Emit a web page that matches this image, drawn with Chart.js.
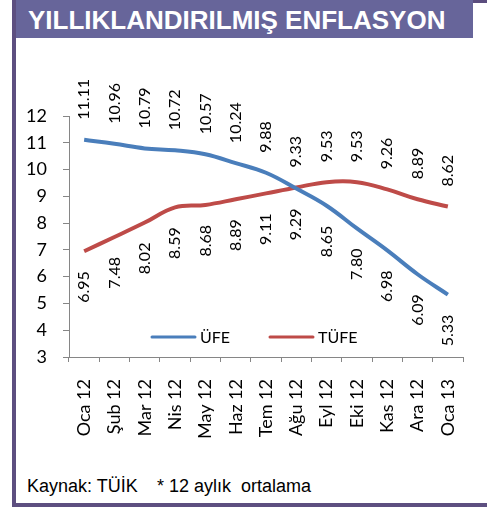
<!DOCTYPE html>
<html>
<head>
<meta charset="utf-8">
<script src="https://cdn.jsdelivr.net/npm/chart.js@4"></script>
<style>
  body { margin: 0; width: 487px; height: 508px; background: #fff; position: relative; overflow: hidden; }
  .box { position: absolute; }
  #title { left: 12px; top: 0; width: 461px; height: 38px; background: #67659a; color: #fff;
           font: bold 26px "Liberation Sans", Arial, sans-serif; line-height: 40px; padding-left: 16px; box-sizing: border-box; white-space: nowrap; }
  #strip { left: 473px; top: 0; width: 14px; height: 3px; background: #5b4d7e; }
  #leftBorder { left: 12px; top: 0; width: 4px; height: 507px; background: #5d4f80; }
  #bottomBorder { left: 12px; top: 503px; width: 475px; height: 4px; background: #5d4f80; }
  #chartBox { left: 16px; top: 38px; }
  #footer { left: 27px; top: 476px; font: 18px "Liberation Sans", Arial, sans-serif; color: #000; white-space: nowrap; }
  #footer span { position: absolute; top: 0; }
</style>
</head>
<body>
<div class="box" id="title">YILLIKLANDIRILMIŞ ENFLASYON</div>
<div class="box" id="strip"></div>
<div class="box" id="leftBorder"></div>
<div class="box" id="bottomBorder"></div>
<div class="box" id="chartBox"><canvas id="inflationChart" width="471" height="432"></canvas></div>
<div class="box" id="footer"><span style="left:0">Kaynak: TÜİK</span><span style="left:130px">* 12 aylık&nbsp; ortalama</span></div>
<script>
// aylar
const months = ['Oca 12', 'Şub 12', 'Mar 12', 'Nis 12', 'May 12', 'Haz 12', 'Tem 12',
                'Ağu 12', 'Eyl 12', 'Eki 12', 'Kas 12', 'Ara 12', 'Oca 13'];

// yıllıklandırılmış değerler (%)
const ufe  = [11.11, 10.96, 10.79, 10.72, 10.57, 10.24, 9.88, 9.29, 8.65, 7.80, 6.98, 6.09, 5.33];
const tufe = [6.95, 7.48, 8.02, 8.59, 8.68, 8.89, 9.11, 9.33, 9.53, 9.53, 9.26, 8.89, 8.62];

// y ekseni
const yMin = 3, yMax = 12, yStep = 1;

const axisColor = '#868686';
const fontFamily = 'Lato, "Open Sans", sans-serif';

// değer etiketleri: üstteki seri üstte, alttaki seri altta, dikey yazı
const valueLabels = {
    id: 'valueLabels',
    afterDatasetsDraw(chart) {
        const ctx = chart.ctx;
        const sets = chart.data.datasets;
        ctx.save();
        ctx.font = '16px ' + fontFamily;
        ctx.fillStyle = '#000';
        ctx.textBaseline = 'middle';
        sets.forEach((ds, di) => {
            const meta = chart.getDatasetMeta(di);
            const other = sets[1 - di].data;
            meta.data.forEach((pt, i) => {
                const above = ds.data[i] >= other[i];
                ctx.save();
                ctx.translate(pt.x, above ? pt.y - 20 : pt.y + 20);
                ctx.rotate(-Math.PI / 2);
                ctx.textAlign = above ? 'left' : 'right';
                ctx.fillText(ds.data[i].toFixed(2), 0, 0);
                ctx.restore();
            });
        });
        ctx.restore();
    }
};

// grafik içindeki lejant
const innerLegend = {
    id: 'innerLegend',
    afterDraw(chart) {
        const ctx = chart.ctx;
        const area = chart.chartArea;
        const y = area.bottom - 20;
        const starts = [area.left + 83, area.left + 201];
        ctx.save();
        ctx.font = '16px ' + fontFamily;
        ctx.fillStyle = '#000';
        ctx.textBaseline = 'middle';
        ctx.textAlign = 'left';
        chart.data.datasets.forEach((ds, i) => {
            const x = starts[i];
            ctx.strokeStyle = ds.borderColor;
            ctx.lineWidth = 3;
            ctx.lineCap = 'round';
            ctx.beginPath();
            ctx.moveTo(x, y);
            ctx.lineTo(x + 43, y);
            ctx.stroke();
            ctx.fillText(ds.label, x + 48, y + 1);
        });
        ctx.restore();
    }
};

const ctx = document.getElementById('inflationChart').getContext('2d');
new Chart(ctx, {
    type: 'line',
    data: {
        labels: months,
        datasets: [
            { label: 'ÜFE', data: ufe, borderColor: '#4a7ebb', borderWidth: 4, pointRadius: 0, tension: 0.4, fill: false },
            { label: 'TÜFE', data: tufe, borderColor: '#be4b48', borderWidth: 4, pointRadius: 0, tension: 0.4, fill: false }
        ]
    },
    options: {
        responsive: false,
        animation: false,
        layout: { padding: { left: 0, right: 14, top: 78, bottom: 0 } },
        plugins: {
            legend: { display: false },
            tooltip: { enabled: false }
        },
        scales: {
            x: {
                offset: true,
                grid: { drawOnChartArea: false, drawTicks: true, tickLength: 5, color: axisColor, offset: true },
                border: { color: axisColor, width: 1 },
                ticks: {
                    autoSkip: false, maxRotation: 90, minRotation: 90, padding: 17,
                    color: '#000', font: { family: fontFamily, size: 18 }
                },
                afterFit(scale) { scale.height = 113; }
            },
            y: {
                min: yMin, max: yMax,
                grid: { drawOnChartArea: false, drawTicks: true, tickLength: 6, color: axisColor },
                border: { color: axisColor, width: 1 },
                ticks: {
                    stepSize: yStep, padding: 16,
                    color: '#000', font: { family: fontFamily, size: 18 }
                },
                afterFit(scale) { scale.width = 53; }
            }
        }
    },
    plugins: [valueLabels, innerLegend]
});
</script>
</body>
</html>
